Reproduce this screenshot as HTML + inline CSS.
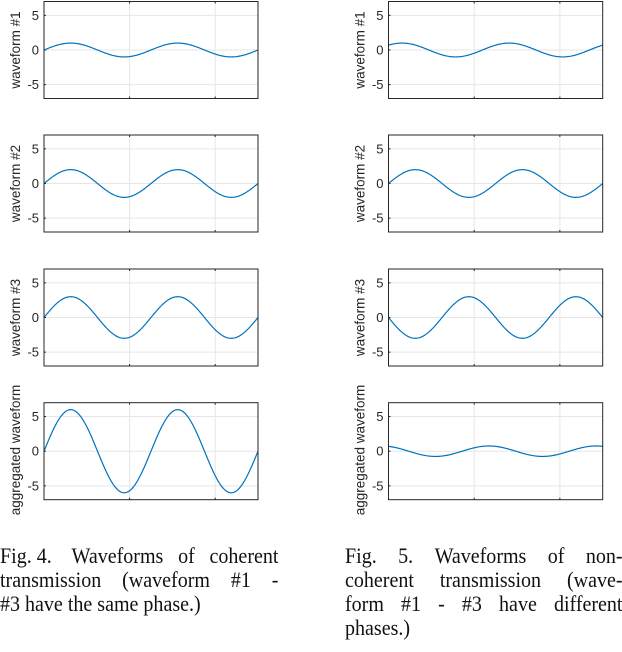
<!DOCTYPE html>
<html><head><meta charset="utf-8"><style>
body{margin:0;width:622px;height:652px;background:#fff;overflow:hidden;position:relative}
svg{position:absolute;left:0;top:0}
.cap{position:absolute;font-family:"Liberation Serif",serif;font-size:22px;color:#111;line-height:24px;transform:scaleX(0.91);transform-origin:0 0}
.ln{display:flex;justify-content:space-between;white-space:nowrap}
.ln.l{justify-content:flex-start;word-spacing:0px}
</style></head><body>
<svg id="chart" width="622" height="652"></svg>
<div class="cap" style="left:0;top:544px;width:306px">
<div class="ln"><span>Fig. 4.&nbsp;</span><span>Waveforms</span><span>of</span><span>coherent</span></div>
<div class="ln"><span>transmission</span><span>(waveform</span><span>#1</span><span>-</span></div>
<div class="ln l"><span>#3 have the same phase.)</span></div>
</div>
<div class="cap" style="left:345px;top:544px;width:305px">
<div class="ln"><span>Fig.</span><span>5.</span><span>Waveforms</span><span>of</span><span>non-</span></div>
<div class="ln"><span>coherent</span><span>transmission</span><span>(wave-</span></div>
<div class="ln"><span>form</span><span>#1</span><span>-</span><span>#3</span><span>have</span><span>different</span></div>
<div class="ln l"><span>phases.)</span></div>
</div>
<script>
// data
const leftAmps = [1, 2, 3];
const leftPhases = [0, 0, 0];
const rightAmps = [1, 2, -3];
const rightPhases = [0.775, 0, 0];
const rowLabels = ["waveform #1", "waveform #2", "waveform #3", "aggregated waveform"];
const yTicks = [5, 0, -5];
const xTicks = [1, 2];
const xMax = 2.5, yMin = -7, yMax = 7, freq = 0.8;

const NS = "http://www.w3.org/2000/svg";
const svg = document.getElementById('chart');
function mk(tag, attrs, parent){const e=document.createElementNS(NS,tag);for(const k in attrs)e.setAttribute(k,attrs[k]);(parent||svg).appendChild(e);return e;}

const rowTops = [1.5, 135, 269, 402.7];
const H = 97;
const cols = [{x0:44,x1:258,amps:leftAmps,ph:leftPhases,name:'coherent'},{x0:388.5,x1:602.7,amps:rightAmps,ph:rightPhases,name:'noncoherent'}];

cols.forEach((c,ci)=>{
  rowLabels.forEach((lab,ri)=>{
    const top=rowTops[ri], bot=top+H;
    const xs=v=>c.x0+(v/xMax)*(c.x1-c.x0);
    const ys=v=>bot-(v-yMin)/(yMax-yMin)*H;
    const g=mk('g',{});
    
    
    yTicks.forEach(t=>{
      const l=mk('line',{x1:c.x0,x2:c.x1,y1:ys(t),y2:ys(t),stroke:'#e6e6e6','stroke-width':1},g);
      
      
      const tx=mk('text',{x:c.x0-5,y:ys(t)+4.5,'text-anchor':'end','font-family':'Liberation Sans, sans-serif','font-size':13,fill:'#262626'},g);
      tx.textContent=t;
      
      
      mk('line',{x1:c.x0,x2:c.x0+2,y1:ys(t),y2:ys(t),stroke:'#262626'},g);
    });
    xTicks.forEach(t=>{
      const l=mk('line',{x1:xs(t),x2:xs(t),y1:top,y2:bot,stroke:'#e6e6e6','stroke-width':1},g);
      
      
      mk('line',{x1:xs(t),x2:xs(t),y1:bot,y2:bot-2,stroke:'#262626'},g);
      mk('line',{x1:xs(t),x2:xs(t),y1:top,y2:top+2,stroke:'#262626'},g);
    });
    const f=x=>{
      if(ri<3) return c.amps[ri]*Math.sin(2*Math.PI*freq*x+c.ph[ri]);
      let s=0; for(let k=0;k<c.amps.length;k++) s+=c.amps[k]*Math.sin(2*Math.PI*freq*x+c.ph[k]); return s;
    };
    let d='';
    for(let i=0;i<=300;i++){const x=xMax*i/300;d+=(i?'L':'M')+xs(x).toFixed(2)+','+ys(f(x)).toFixed(2);}
    const p=mk('path',{d:d,fill:'none',stroke:'#0072bd','stroke-width':1.2},g);
    
    
    const b=mk('rect',{x:c.x0,y:top,width:c.x1-c.x0,height:H,fill:'none',stroke:'#262626','stroke-width':1},g);
    
    
    const cy = ri<3 ? top+H/2 : 450;
    const yl=mk('text',{x:0,y:0,transform:`translate(${c.x0-24},${cy}) rotate(-90)`,'text-anchor':'middle','font-family':'Liberation Sans, sans-serif','font-size':13.5,fill:'#262626'},g);
    yl.textContent=lab;
    
    
  });
});
</script>
</body></html>
